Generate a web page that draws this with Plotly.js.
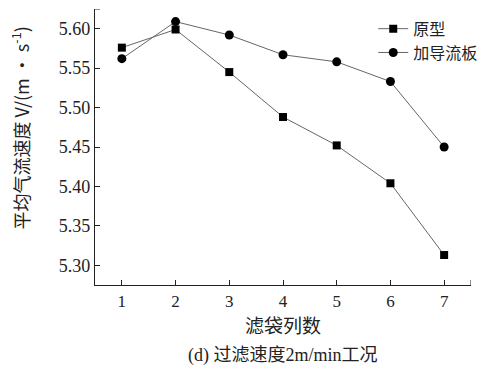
<!DOCTYPE html>
<html><head><meta charset="utf-8">
<script src="https://cdn.plot.ly/plotly-3.0.1.min.js"></script>
<style>html,body{margin:0;padding:0;background:#fff}#c{width:492px;height:377px}</style>
</head><body><div id="c"></div>
<script>
const categories = [1, 2, 3, 4, 5, 6, 7];
const seriesNames = ['原型', '加导流板'];
const prototypeVals = [5.576, 5.599, 5.545, 5.488, 5.452, 5.404, 5.313];
const baffleVals = [5.562, 5.609, 5.592, 5.567, 5.558, 5.533, 5.450];
const yTickVals = [5.30, 5.35, 5.40, 5.45, 5.50, 5.55, 5.60];
const yTickText = ['5.30', '5.35', '5.40', '5.45', '5.50', '5.55', '5.60'];
const xTickVals = [1, 2, 3, 4, 5, 6, 7];
const xTickText = ['1', '2', '3', '4', '5', '6', '7'];
const xRange = [0.5, 7.5];
const yRange = [5.275, 5.625];

const serif = 'Liberation Serif, Times New Roman, serif';
const cjk = 'Noto Sans CJK SC, sans-serif';

const traces = [
  {x: categories, y: prototypeVals, name: seriesNames[0], mode: 'lines+markers', type: 'scatter',
   line: {color: '#666', width: 1}, marker: {symbol: 'square', size: 8, color: '#000'}},
  {x: categories, y: baffleVals, name: seriesNames[1], mode: 'lines+markers', type: 'scatter',
   line: {color: '#666', width: 1}, marker: {symbol: 'circle', size: 9, color: '#000'}}
];

const layout = {
  width: 492, height: 377,
  margin: {l: 95, r: 19, t: 9, b: 92},
  paper_bgcolor: '#fff', plot_bgcolor: '#fff',
  showlegend: true,
  legend: {x: 0.74, y: 0.99, xanchor: 'left', yanchor: 'top', bgcolor: 'rgba(0,0,0,0)',
           font: {family: cjk, size: 16, color: '#222'}, tracegroupgap: 0, itemwidth: 30},
  xaxis: {range: xRange, tickvals: xTickVals, ticktext: xTickText, ticks: 'inside', ticklen: 5,
          tickcolor: '#222', showline: true, linecolor: '#222', linewidth: 1.2, showgrid: false, zeroline: false,
          tickfont: {family: serif, size: 17, color: '#222'},
          title: {text: '滤袋列数', font: {family: cjk, size: 19, color: '#222'}, standoff: 5}},
  yaxis: {range: yRange, tickvals: yTickVals, ticktext: yTickText, ticks: 'inside', ticklen: 5,
          tickcolor: '#222', showline: true, linecolor: '#222', linewidth: 1.2, showgrid: false, zeroline: false,
          tickfont: {family: serif, size: 18, color: '#222'}},
  shapes: [
    {type: 'line', xref: 'paper', yref: 'y', xsizemode: 'pixel', xanchor: 0, x0: 0, x1: 5,
     y0: yRange[1], y1: yRange[1], line: {color: '#222', width: 1}},
    {type: 'line', xref: 'x', yref: 'paper', ysizemode: 'pixel', yanchor: 0, y0: 0, y1: 5,
     x0: xRange[1], x1: xRange[1], line: {color: '#222', width: 1}}
  ],
  annotations: [
    {text: '平均气流速度 V/(m · s<sup>-1</sup>)', xref: 'paper', yref: 'paper', x: -0.2, y: 0.57,
     xanchor: 'center', yanchor: 'middle', textangle: -90, showarrow: false,
     font: {family: cjk, size: 18, color: '#222'}},
    {text: '(d) 过滤速度2m/min工况', xref: 'paper', yref: 'paper', x: 0.5, y: -0.255,
     xanchor: 'center', yanchor: 'middle', showarrow: false,
     font: {family: serif + ', ' + cjk, size: 18, color: '#222'}}
  ]
};
Plotly.newPlot('c', traces, layout, {displayModeBar: false, staticPlot: true});
</script></body></html>
